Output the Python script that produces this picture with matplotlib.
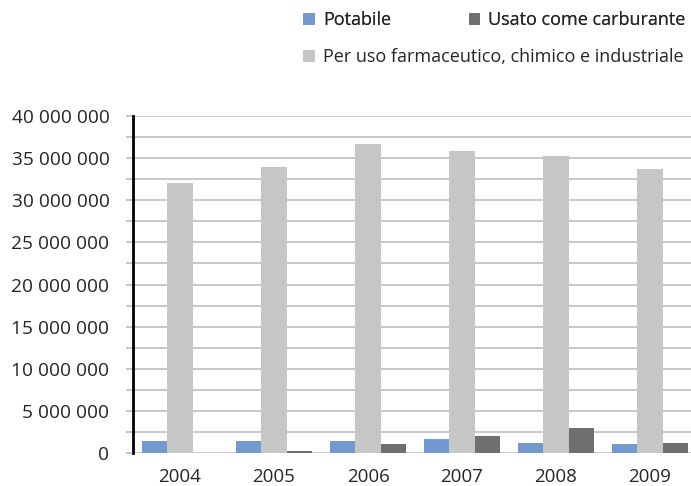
import numpy as np
import matplotlib
matplotlib.use("Agg")
import matplotlib.pyplot as plt
from matplotlib.ticker import MultipleLocator, FuncFormatter

plt.rcParams['font.family'] = ['Open Sans', 'DejaVu Sans']

# data
years = ['2004', '2005', '2006', '2007', '2008', '2009']
potabile = [1460000, 1460000, 1460000, 1700000, 1220000, 1100000]
per_uso = [32000000, 33900000, 36700000, 35800000, 35200000, 33700000]
carburante = [50000, 270000, 1100000, 2050000, 3000000, 1220000]

col_pot = '#7399d1'
col_ind = '#c6c6c6'
col_car = '#6f6f6f'
txt = '#262626'

fig = plt.figure(figsize=(6.91, 4.86), dpi=100)
ax = fig.add_axes([133 / 691, 33 / 486, 564 / 691, 337 / 486])

x = np.arange(len(years))
w = 0.27
b1 = ax.bar(x - w, potabile, w, color=col_pot, zorder=3, label='Potabile')
b2 = ax.bar(x, per_uso, w, color=col_ind, zorder=3,
            label='Per uso farmaceutico, chimico e industriale')
b3 = ax.bar(x + w, carburante, w, color=col_car, zorder=3,
            label='Usato come carburante')

ax.set_xlim(-0.5, 5.5)
ax.set_ylim(0, 40000000)
ax.yaxis.set_major_locator(MultipleLocator(5000000))
ax.yaxis.set_minor_locator(MultipleLocator(2500000))
ax.yaxis.set_major_formatter(FuncFormatter(lambda v, p: f"{int(v):,}".replace(",", " ")))
ax.grid(axis='y', which='both', color='#c3c3c3', linewidth=1.3, zorder=0)
ax.tick_params(axis='y', which='both', length=5, width=1.3, color='#c3c3c3',
               labelsize=13.8, labelcolor=txt, pad=12)
ax.tick_params(axis='x', length=0, labelsize=13.5, labelcolor=txt, pad=11)
ax.set_xticks(x)
ax.set_xticklabels(years)

for s in ['top', 'right', 'bottom']:
    ax.spines[s].set_visible(False)
ax.spines['left'].set_color('black')
ax.spines['left'].set_linewidth(2)
ax.spines['left'].set_zorder(4)

leg1 = fig.legend(handles=[b1, b3], loc='center left', bbox_to_anchor=(303 / 691, 1 - 20 / 486),
                  ncol=2, frameon=False, fontsize=13, handlelength=0.65, handleheight=0.65,
                  handletextpad=0.45, columnspacing=4.3, borderpad=0, borderaxespad=0)
for t in leg1.get_texts():
    t.set_color(txt)
leg2 = fig.legend(handles=[b2], loc='center left', bbox_to_anchor=(303 / 691, 1 - 57 / 486),
                  frameon=False, fontsize=13, handlelength=0.65, handleheight=0.65,
                  handletextpad=0.45, borderpad=0, borderaxespad=0)
for t in leg2.get_texts():
    t.set_color(txt)
fig.add_artist(leg1)

fig.savefig('out.png', dpi=100)
